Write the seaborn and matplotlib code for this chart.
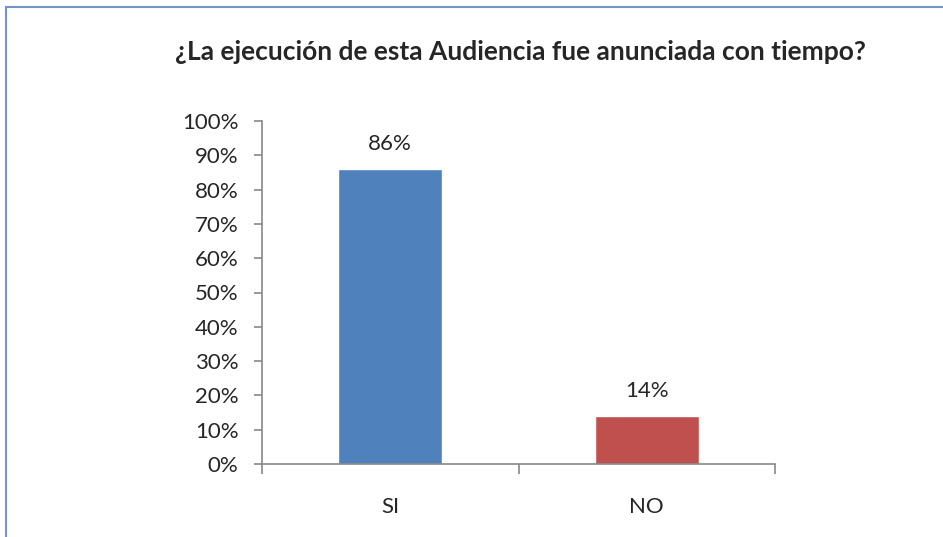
import matplotlib
matplotlib.use("Agg")
import matplotlib.pyplot as plt
import seaborn as sns
import pandas as pd
from matplotlib.lines import Line2D
from matplotlib.ticker import PercentFormatter, FixedLocator

categorias = ['SI', 'NO']
valores = [86, 14]
colores = ['#4f81bd', '#c0504d']
titulo = '¿La ejecución de esta Audiencia fue anunciada con tiempo?'

df = pd.DataFrame({'Respuesta': categorias, 'Porcentaje': valores})

sns.set_style('white')
plt.rcParams['font.family'] = ['Lato', 'DejaVu Sans']

fig = plt.figure(figsize=(9.43, 5.37), dpi=100)
ax = fig.add_axes([262 / 943, 1 - 464 / 537, (775 - 262) / 943, (464 - 121) / 537])

sns.barplot(data=df, x='Respuesta', y='Porcentaje', hue='Respuesta',
            palette=colores, width=0.405, legend=False, ax=ax, saturation=1)

ax.set_ylim(0, 100)
ax.set_xlim(-0.5, 1.5)
ax.yaxis.set_major_locator(FixedLocator(range(0, 101, 10)))
ax.yaxis.set_major_formatter(PercentFormatter(decimals=0))
ax.set_xlabel('')
ax.set_ylabel('')

# etiquetas de valores
for p, v in zip(ax.patches, valores):
    ax.text(p.get_x() + p.get_width() / 2, v + 4.5, f'{v}%', ha='center', va='bottom',
            fontsize=16)

for s in ['top', 'right']:
    ax.spines[s].set_visible(False)
for s in ['left', 'bottom']:
    ax.spines[s].set_color('#888888')
    ax.spines[s].set_linewidth(1.2)

ax.tick_params(axis='y', left=True, length=6, color='#888888', width=1.2,
               labelsize=16, pad=11)
ax.tick_params(axis='x', bottom=False, labelsize=16, pad=20)
# ticks del eje x entre categorias
ax.set_xticks([-0.5, 0.5, 1.5], minor=True)
ax.tick_params(axis='x', which='minor', bottom=True, length=7, color='#888888', width=1.2)

fig.text(520 / 943, 1 - 52 / 537, titulo, ha='center', va='center',
         fontsize=19, fontweight='bold')

# borde del grafico
fig.add_artist(Line2D([6 / 943, 1], [1 - 7 / 537, 1 - 7 / 537], color='#6f95c9', lw=1.5))
fig.add_artist(Line2D([6 / 943, 6 / 943], [0, 1 - 7 / 537], color='#6f95c9', lw=1.5))

fig.savefig('out.png', dpi=100, facecolor='white')
